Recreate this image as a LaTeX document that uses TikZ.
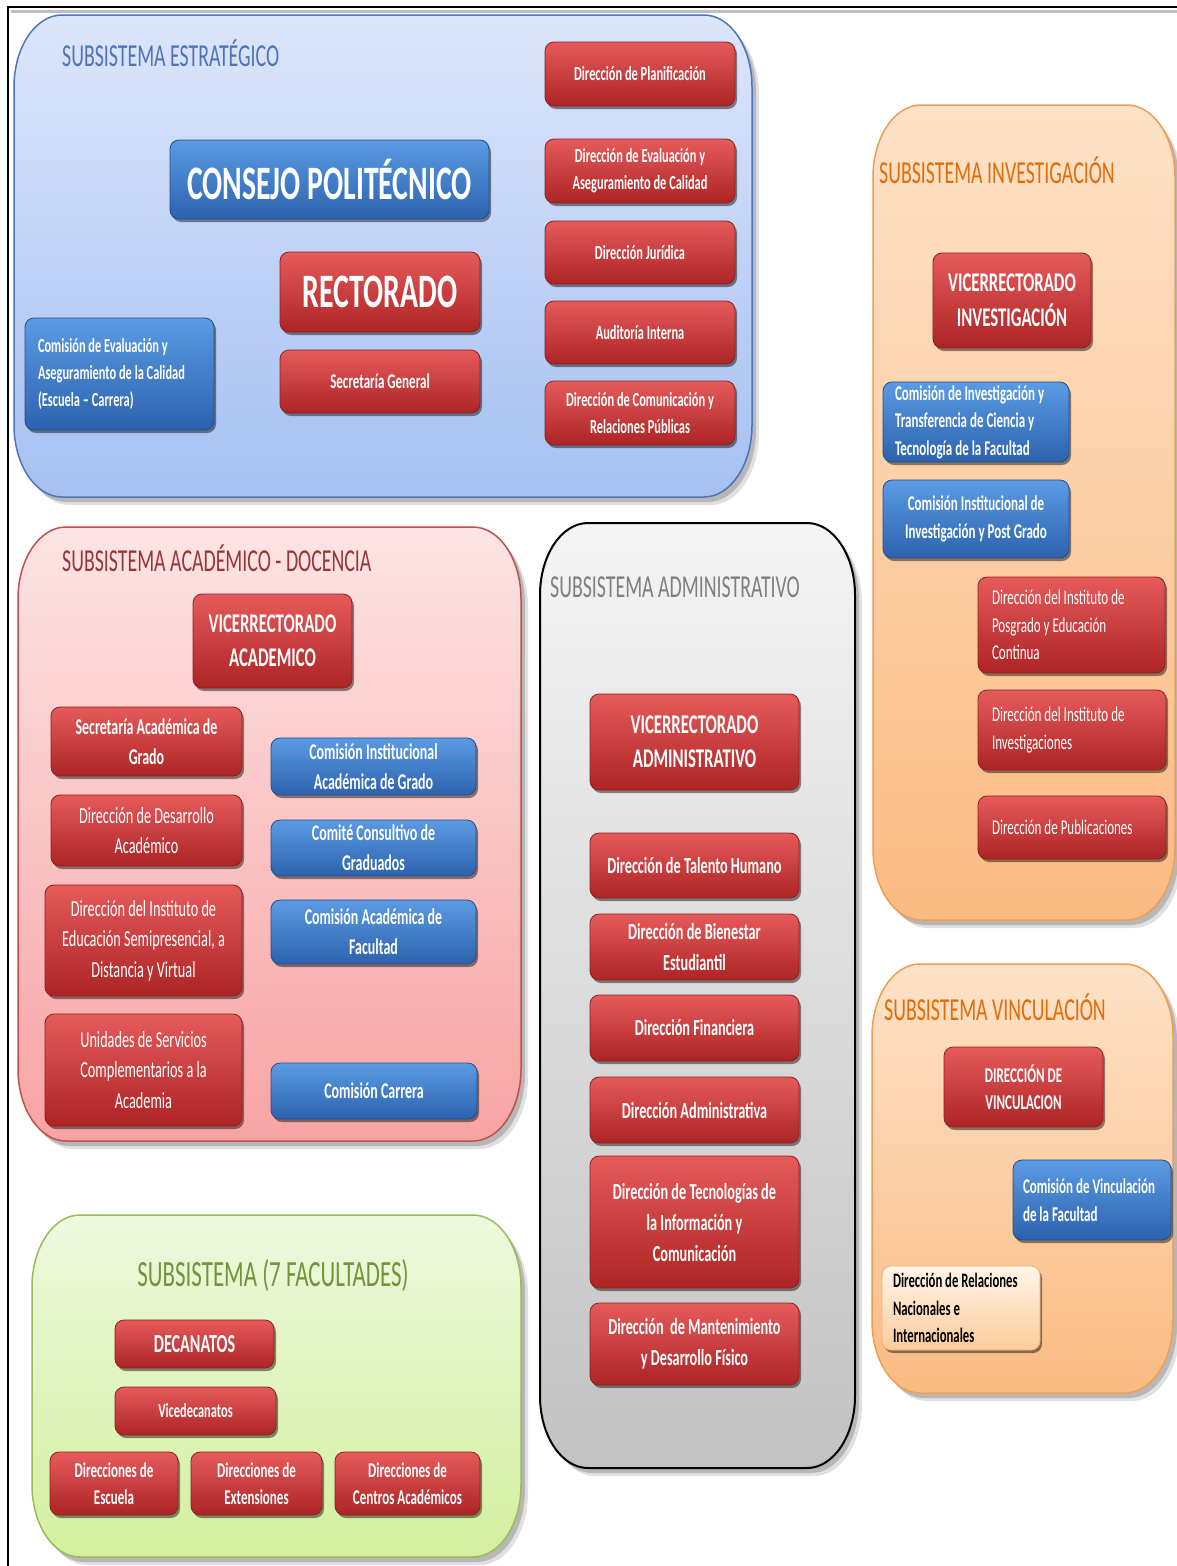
\documentclass[tikz,border=0pt]{standalone}
\usepackage{fontspec}
\setmainfont{Carlito}[FakeStretch=0.62]
\usetikzlibrary{shadows}

\definecolor{redtop}{HTML}{E65A5A}
\definecolor{redbot}{HTML}{AD2424}
\definecolor{redline}{HTML}{8E1F1F}
\definecolor{bluetop}{HTML}{5B9BE4}
\definecolor{bluebot}{HTML}{2C62AE}
\definecolor{blueline}{HTML}{1F4E8C}
\definecolor{esttop}{HTML}{DCE6FA}
\definecolor{estbot}{HTML}{A5C0F2}
\definecolor{estline}{HTML}{4F74BC}
\definecolor{esttitle}{HTML}{4F72BA}
\definecolor{acatop}{HTML}{FDE4E4}
\definecolor{acabot}{HTML}{F8A3A3}
\definecolor{acaline}{HTML}{C0504D}
\definecolor{acatitle}{HTML}{953735}
\definecolor{admtop}{HTML}{F4F4F4}
\definecolor{admbot}{HTML}{C2C2C2}
\definecolor{admtitle}{HTML}{7F7F7F}
\definecolor{invtop}{HTML}{FDE2C8}
\definecolor{invbot}{HTML}{FBBB82}
\definecolor{invline}{HTML}{EF9E50}
\definecolor{invtitle}{HTML}{E36C09}
\definecolor{factop}{HTML}{EEF8DE}
\definecolor{facbot}{HTML}{D2F09F}
\definecolor{facline}{HTML}{9BBB59}
\definecolor{factitle}{HTML}{76923C}
\definecolor{peachtop}{HTML}{FFF5EA}
\definecolor{peachbot}{HTML}{FCCB9A}
\definecolor{peachline}{HTML}{F2B074}

% font size helper
\newcommand\fs[2]{\fontsize{#1}{#2}\selectfont}

% rounded rectangle with elliptic corners: x1 y1 x2 y2 rx ry
\newcommand\rrpath[6]{%
 ({#1},{#2+#6}) -- ({#1},{#4-#6})
 .. controls ({#1},{#4-0.448*#6}) and ({#1+0.448*#5},{#4}) .. ({#1+#5},{#4})
 -- ({#3-#5},{#4})
 .. controls ({#3-0.448*#5},{#4}) and ({#3},{#4-0.448*#6}) .. ({#3},{#4-#6})
 -- ({#3},{#2+#6})
 .. controls ({#3},{#2+0.448*#6}) and ({#3-0.448*#5},{#2}) .. ({#3-#5},{#2})
 -- ({#1+#5},{#2})
 .. controls ({#1+0.448*#5},{#2}) and ({#1},{#2+0.448*#6}) .. ({#1},{#2+#6}) -- cycle}

% subsystem panel: x1 y1 x2 y2 top bottom line width
\newcommand\panel[8]{%
 \begin{scope}[shift={(7,8)}]\fill[black,opacity=.12] \rrpath{#1}{#2}{#3}{#4}{48}{72};\end{scope}
 \begin{scope}[shift={(4,5)}]\fill[black,opacity=.18] \rrpath{#1}{#2}{#3}{#4}{48}{72};\end{scope}
 \path[draw=#7, line width=#8, top color=#5, bottom color=#6] \rrpath{#1}{#2}{#3}{#4}{48}{72};}

% box node: name x1 y1 x2 y2 style text
\newcommand\bx[7]{%
 \pgfmathsetmacro\bxw{#4-#2}\pgfmathsetmacro\bxh{#5-#3}%
 \pgfmathsetmacro\bxx{(#2+#4)/2}\pgfmathsetmacro\bxy{(#3+#5)/2}%
 \node[#6, minimum width=\bxw pt, minimum height=\bxh pt] (#1) at (\bxx,\bxy) {#7};}

\tikzset{
 box/.style={rounded corners=9pt, inner sep=2pt, align=center, text=white,
   font=\fs{20}{27}\bfseries,
   drop shadow={shadow xshift=2pt, shadow yshift=-3pt, opacity=.45, fill=black}},
 redbox/.style={box, draw=redline, line width=.8pt, top color=redtop, bottom color=redbot},
 bluebox/.style={box, draw=blueline, line width=.8pt, top color=bluetop, bottom color=bluebot},
 peachbox/.style={box, draw=peachline, line width=.8pt, top color=peachtop, bottom color=peachbot, text=black},
 ttl/.style={anchor=west, inner sep=0pt, font=\fs{32}{36}},
}

\begin{document}
\begin{tikzpicture}[x=1pt, y=-1pt]
\fill[white] (0,0) rectangle (1177,1566);
\useasboundingbox (0,0) rectangle (1177,1566);

% outer frame
\draw[black!25, line width=3pt] (11,11) -- (1177,11);
\draw[line width=2pt] (8,1566) -- (8,7) -- (1177,7);

% ---------- panels ----------
\panel{14}{15}{752}{497}{esttop}{estbot}{estline}{1.5pt}
\panel{873}{105}{1175}{920}{invtop}{invbot}{invline}{1.5pt}
\panel{872}{964}{1173}{1393}{invtop}{invbot}{invline}{1.5pt}
\panel{18}{527}{521}{1141}{acatop}{acabot}{acaline}{1.5pt}
\panel{540}{523}{855}{1468}{admtop}{admbot}{black}{2pt}
\panel{32}{1215}{521}{1557}{factop}{facbot}{facline}{1.5pt}

% ---------- titles ----------
\node[ttl, text=esttitle] (tEst) at (62,53) {SUBSISTEMA ESTRATÉGICO};
\node[ttl, text=invtitle] (tInv) at (879,170) {SUBSISTEMA INVESTIGACIÓN};
\node[ttl, text=invtitle] (tVin) at (884,1007) {SUBSISTEMA VINCULACIÓN};
\node[ttl, text=acatitle] (tAca) at (62,558) {SUBSISTEMA ACADÉMICO - DOCENCIA};
\node[ttl, text=admtitle] (tAdm) at (550,587) {SUBSISTEMA ADMINISTRATIVO};
\node[inner sep=0pt, text=factitle, font=\fs{37}{42}] (tFac) at (273,1276) {SUBSISTEMA (7 FACULTADES)};

% ---------- estratégico ----------
\bx{consejo}{170}{140}{489}{219}{bluebox, font=\fs{48}{54}\bfseries}{CONSEJO POLITÉCNICO}
\bx{rector}{280}{252}{480}{332}{redbox, font=\fs{48}{54}\bfseries}{RECTORADO}
\bx{secgen}{280}{350}{480}{413}{redbox, font=\fs{21}{27}\bfseries}{Secretaría General}
\bx{comeval}{25}{318}{214}{430}{bluebox, align=flush left, inner xsep=13pt, text width=163pt}{Comisión de Evaluación y\\Aseguramiento de la Calidad\\(Escuela – Carrera)}
\bx{planif}{545}{42}{735}{106}{redbox}{Dirección de Planificación}
\bx{evalcal}{545}{139}{735}{203}{redbox}{Dirección de Evaluación y\\Aseguramiento de Calidad}
\bx{juridica}{545}{221}{735}{284}{redbox}{Dirección Jurídica}
\bx{auditoria}{545}{301}{735}{364}{redbox}{Auditoría Interna}
\bx{comunic}{545}{381}{735}{445}{redbox}{Dirección de Comunicación y\\Relaciones Públicas}

% ---------- investigación ----------
\bx{vinv}{933}{253}{1091}{348}{redbox, font=\fs{27}{35}\bfseries}{VICERRECTORADO\\INVESTIGACIÓN}
\bx{cominv}{883}{382}{1069}{462}{bluebox, font=\fs{21}{27.5}\bfseries, align=flush left, inner xsep=12pt, text width=162pt}{Comisión de Investigación y\\Transferencia de Ciencia y\\Tecnología de la Facultad}
\bx{cominst}{883}{480}{1069}{558}{bluebox, font=\fs{21}{28}\bfseries}{Comisión Institucional de\\Investigación y Post Grado}
\bx{dposg}{978}{577}{1165}{673}{redbox, font=\fs{21}{27.5}\mdseries, align=flush left, inner xsep=14pt, text width=159pt}{Dirección del Instituto de\\Posgrado y Educación\\Continua}
\bx{dinvest}{978}{690}{1166}{770}{redbox, font=\fs{21}{28}\mdseries, align=flush left, inner xsep=14pt, text width=160pt}{Dirección del Instituto de\\Investigaciones}
\bx{dpubl}{978}{796}{1166}{859}{redbox, font=\fs{21}{28}\mdseries, align=flush left, inner xsep=14pt, text width=160pt}{Dirección de Publicaciones}

% ---------- vinculación ----------
\bx{dvinc}{944}{1047}{1103}{1127}{redbox, font=\fs{21}{27}\bfseries}{DIRECCIÓN DE\\VINCULACION}
\bx{comvinc}{1013}{1160}{1171}{1240}{bluebox, font=\fs{21}{28}\bfseries, align=flush left, inner xsep=10pt, text width=138pt}{Comisión de Vinculación\\de la Facultad}
\bx{drel}{882}{1266}{1040}{1350}{peachbox, font=\fs{20.5}{27.5}\bfseries, align=flush left, inner xsep=11pt, text width=136pt}{Dirección de Relaciones\\Nacionales e\\Internacionales}

% ---------- académico ----------
\bx{vacad}{193}{594}{352}{688}{redbox, font=\fs{27}{34}\bfseries}{VICERRECTORADO\\ACADEMICO}
\bx{secacad}{51}{707}{242}{776}{redbox, font=\fs{22.5}{30}\bfseries}{Secretaría Académica de\\Grado}
\bx{ddesa}{51}{795}{242}{866}{redbox, font=\fs{23}{30}\mdseries}{Dirección de Desarrollo\\Académico}
\bx{dinst}{45}{885}{242}{996}{redbox, font=\fs{23}{30.5}\mdseries}{Dirección del Instituto de\\Educación Semipresencial, a\\Distancia y Virtual}
\bx{unid}{45}{1014}{242}{1126}{redbox, font=\fs{23}{30.5}\mdseries}{Unidades de Servicios\\Complementarios a la\\Academia}
\bx{cinst}{271}{738}{476}{795}{bluebox, font=\fs{22.5}{30}\bfseries}{Comisión Institucional\\Académica de Grado}
\bx{ccons}{271}{820}{476}{876}{bluebox, font=\fs{22.5}{30}\bfseries}{Comité Consultivo de\\Graduados}
\bx{cacad}{271}{900}{476}{964}{bluebox, font=\fs{22.5}{30}\bfseries}{Comisión Académica de\\Facultad}
\bx{ccarr}{271}{1063}{477}{1119}{bluebox, font=\fs{22.5}{30}\bfseries}{Comisión Carrera}

% ---------- administrativo ----------
\bx{vadm}{590}{694}{799}{790}{redbox, font=\fs{27}{34}\bfseries}{VICERRECTORADO\\ADMINISTRATIVO}
\bx{dth}{590}{833}{799}{898}{redbox, font=\fs{23}{31}\bfseries}{Dirección de Talento Humano}
\bx{dbien}{590}{914}{799}{980}{redbox, font=\fs{23}{31}\bfseries}{Dirección de Bienestar\\Estudiantil}
\bx{dfin}{590}{995}{799}{1061}{redbox, font=\fs{23}{31}\bfseries}{Dirección Financiera}
\bx{dadm}{590}{1077}{799}{1143}{redbox, font=\fs{23}{31}\bfseries}{Dirección Administrativa}
\bx{dtic}{590}{1156}{799}{1288}{redbox, font=\fs{23}{31}\bfseries}{Dirección de Tecnologías de\\la Información y\\Comunicación}
\bx{dmant}{590}{1303}{799}{1385}{redbox, font=\fs{23}{31}\bfseries}{Dirección\ \ de Mantenimiento\\y Desarrollo Físico}

% ---------- facultades ----------
\bx{decan}{115}{1320}{274}{1368}{redbox, font=\fs{26}{30}\bfseries}{DECANATOS}
\bx{vicedec}{115}{1387}{276}{1435}{redbox, font=\fs{20}{27}\bfseries}{Vicedecanatos}
\bx{desc}{50}{1452}{178}{1515}{redbox, font=\fs{21}{27}\bfseries}{Direcciones de\\Escuela}
\bx{dext}{191}{1452}{322}{1515}{redbox, font=\fs{21}{27}\bfseries}{Direcciones de\\Extensiones}
\bx{dcent}{335}{1452}{480}{1515}{redbox, font=\fs{21}{27}\bfseries}{Direcciones de\\Centros Académicos}
\end{tikzpicture}
\end{document}
